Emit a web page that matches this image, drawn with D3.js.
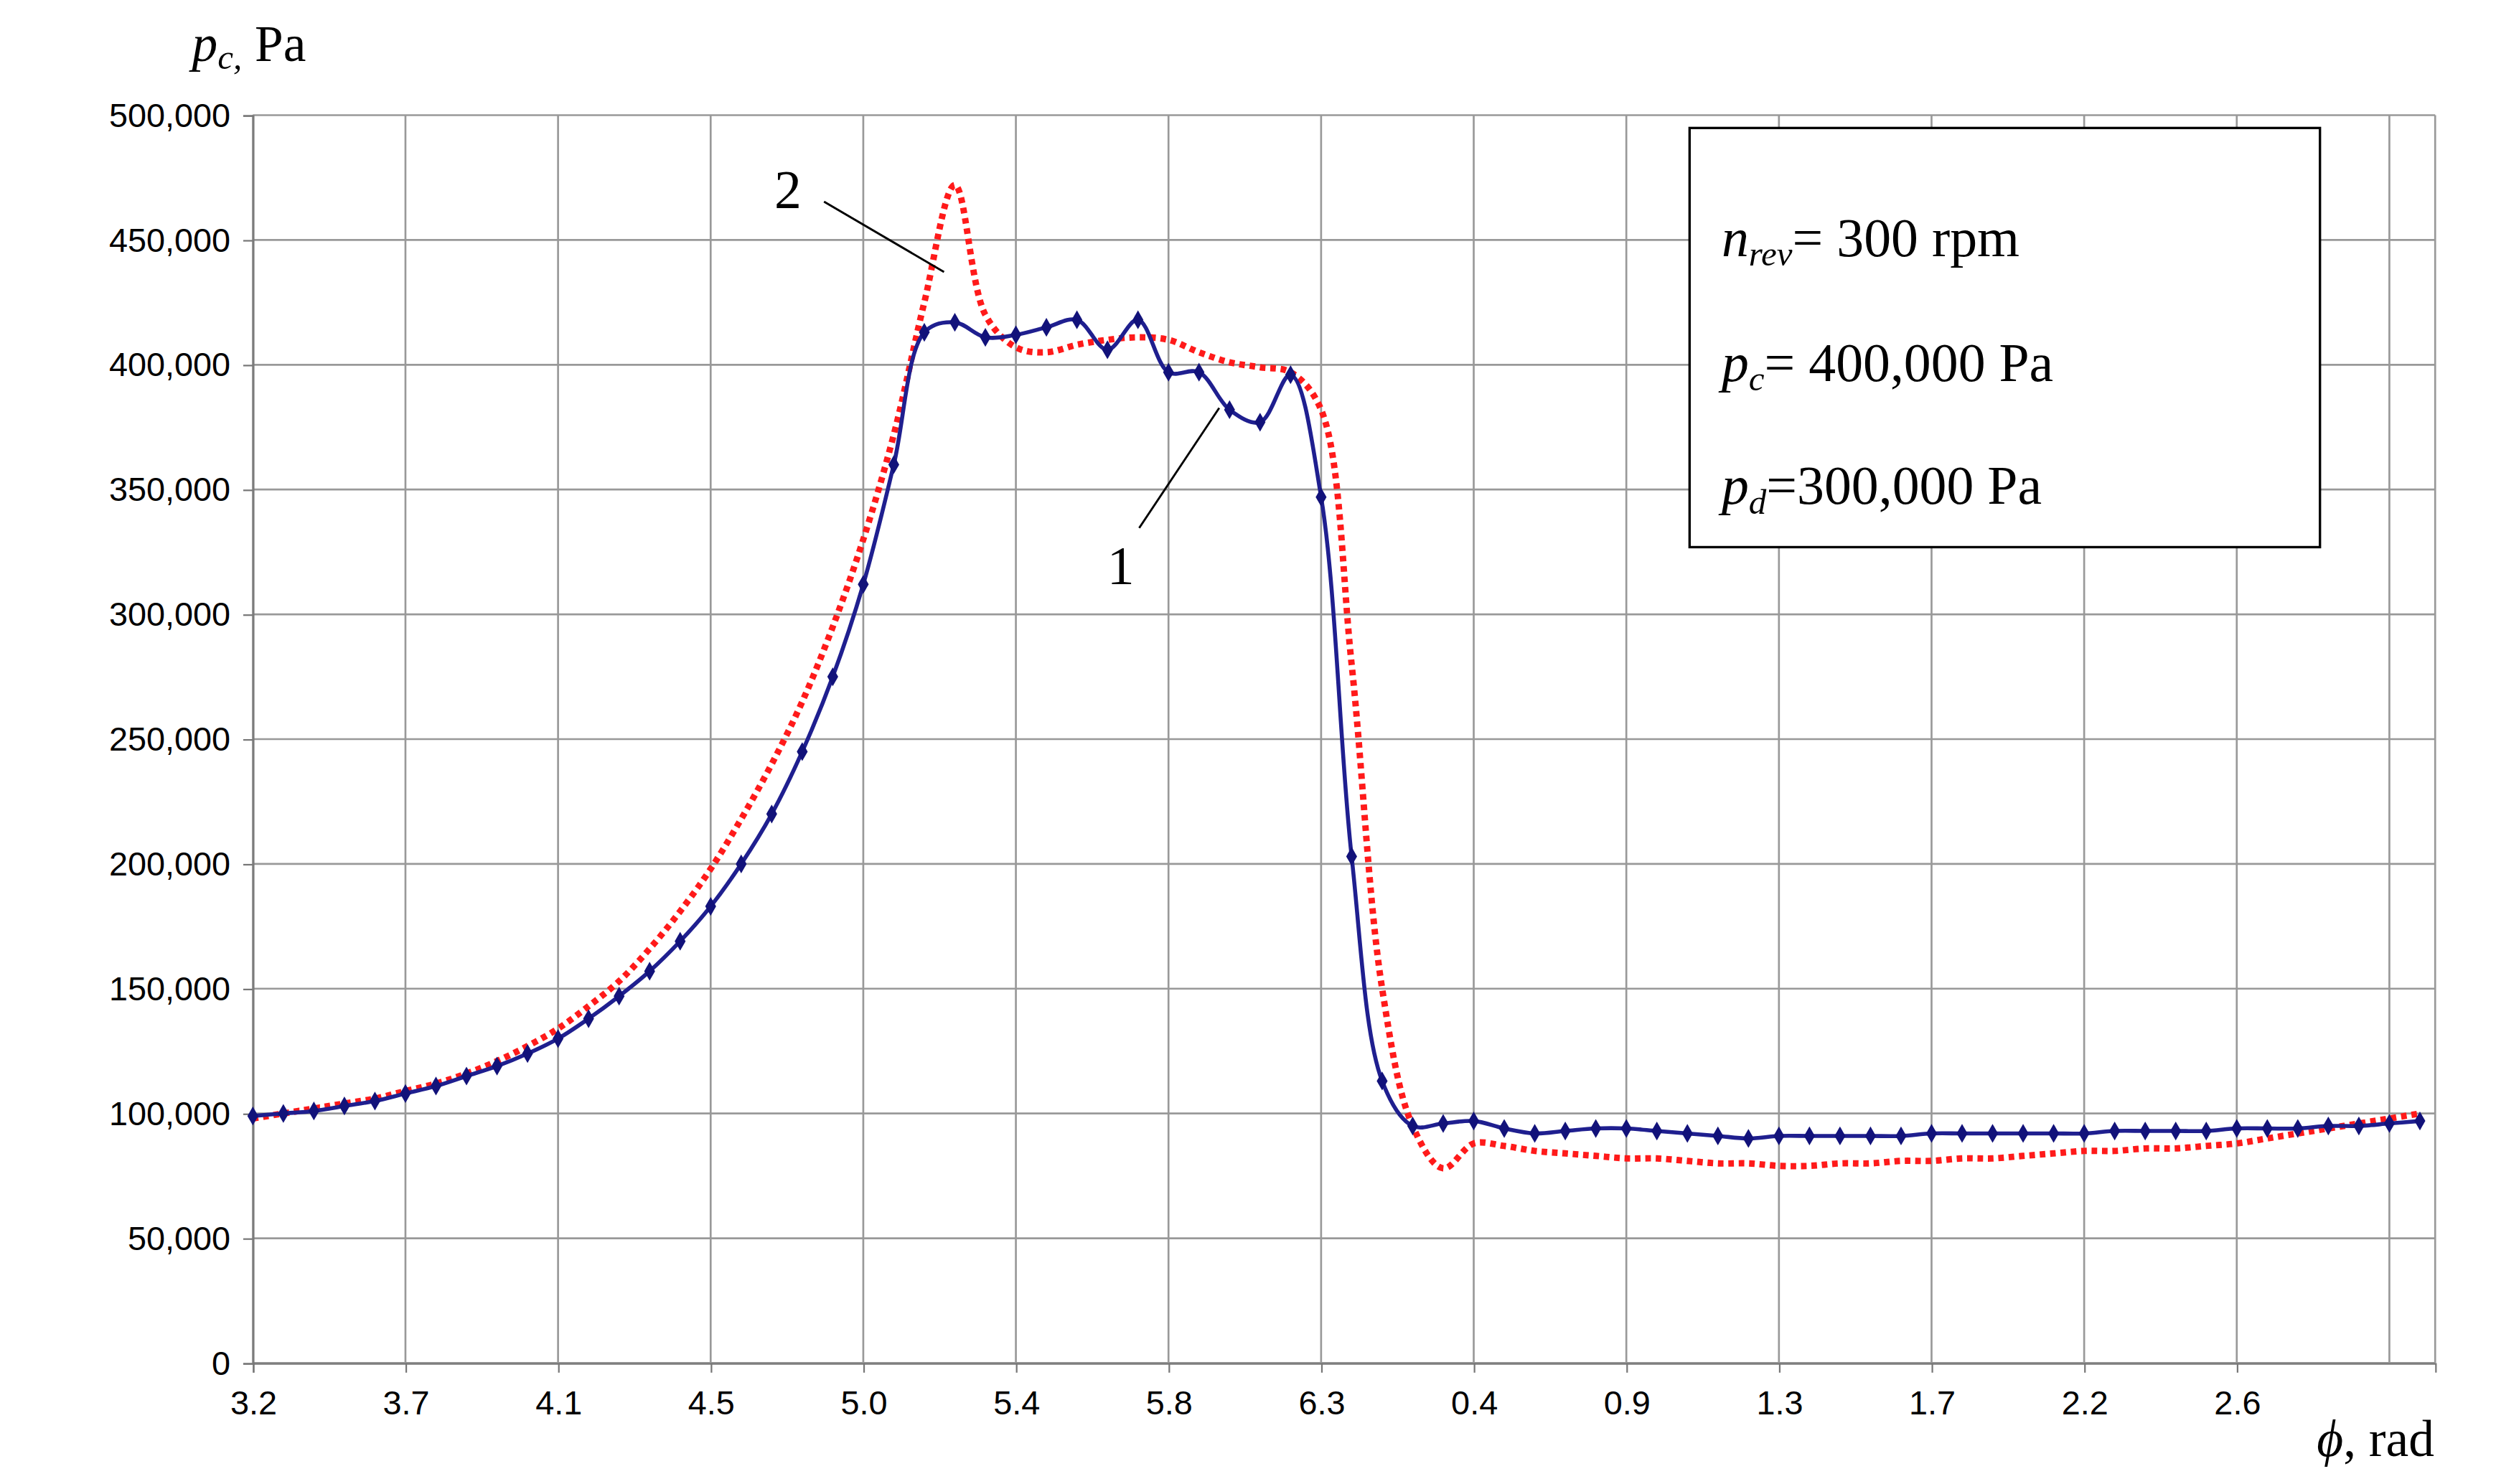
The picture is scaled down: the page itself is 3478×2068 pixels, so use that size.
<!DOCTYPE html>
<html><head><meta charset="utf-8">
<script src="https://cdn.jsdelivr.net/npm/d3@7"></script>
<style>body{margin:0;background:#fff}</style></head>
<body><svg id="c" width="3478" height="2068" viewBox="0 0 1560 927.6"></svg>
<script>
const xTickLabels=["3.2","3.7","4.1","4.5","5.0","5.4","5.8","6.3","0.4","0.9","1.3","1.7","2.2","2.6"];
const yTicks=[0,50000,100000,150000,200000,250000,300000,350000,400000,450000,500000];
const series1=[99,100,101,103,105,108,111,115,119,124,130,138,147,157,169,183,200,220,245,275,312,360,413,417,411,412,415,418,406,418,397,397,382,377,396,347,203,113,95,96,97,94,92,93,94,94,93,92,91,90,91,91,91,91,91,92,92,92,92,92,92,93,93,93,93,94,94,94,95,95,96,97].map(v=>v*1000);
const series2=[98,100,102,104,106,109,112,116,121,127,134,143,153,166,181,198,218,240,265,295,330,372,425,472,420,407,405,408,410,411,410,405,401,399,397,382,280,150,95,78,88,87,85,84,83,82,82,81,80,80,79,79,80,80,81,81,82,82,83,84,85,85,86,86,87,88,90,92,94,96,98,100].map(v=>v*1000);

const svg=d3.select("#c");
const L=158,R=1522,T=72,B=852;
const x=d3.scaleLinear().domain([0,71.5]).range([L,R]);
const y=d3.scaleLinear().domain([0,500000]).range([B,T]);
const g=svg.append("g");
for(let i=0;i<=70;i+=5) g.append("line").attr("x1",x(i)).attr("x2",x(i)).attr("y1",T).attr("y2",B).attr("stroke","#999").attr("stroke-width",1.2);
g.append("line").attr("x1",R).attr("x2",R).attr("y1",T).attr("y2",B).attr("stroke","#999").attr("stroke-width",1.2);
yTicks.forEach(v=>g.append("line").attr("x1",L).attr("x2",R).attr("y1",y(v)).attr("y2",y(v)).attr("stroke","#999").attr("stroke-width",1.2));
const ya=d3.axisLeft(y).tickValues(yTicks).tickFormat(d3.format(",")).tickSize(6);
svg.append("g").attr("transform",`translate(${L},0)`).call(ya).call(a=>{a.select(".domain").attr("stroke","#777");a.selectAll("line").attr("stroke","#777");a.selectAll("text").attr("font-family","Liberation Sans, Arial").attr("font-size",21).attr("fill","#000").attr("x",-14);});
const xa=d3.axisBottom(x).tickValues(d3.range(0,70,5)).tickFormat((d,i)=>xTickLabels[i]).tickSize(6);
svg.append("g").attr("transform",`translate(0,${B})`).call(xa).call(a=>{a.select(".domain").attr("stroke","#777");a.selectAll("line").attr("stroke","#777");a.selectAll("text").attr("font-family","Liberation Sans, Arial").attr("font-size",21).attr("fill","#000").attr("dy","1.1em");});
const line=d3.line().x((d,i)=>x(i)).y(d=>y(d)).curve(d3.curveCatmullRom);
svg.append("path").datum(series2).attr("d",line).attr("fill","none").attr("stroke","#ff1a1a").attr("stroke-width",4).attr("stroke-dasharray","3.5,3");
svg.append("path").datum(series1).attr("d",line).attr("fill","none").attr("stroke","#1f1f8f").attr("stroke-width",2.5);
svg.selectAll(".m").data(series1).enter().append("path").attr("d",d3.symbol(d3.symbolDiamond,40)()).attr("transform",(d,i)=>`translate(${x(i)},${y(d)})`).attr("fill","#12127a");
const serif="Liberation Serif, Times New Roman";
const t1=svg.append("text").attr("x",120).attr("y",38).attr("font-family",serif).attr("font-size",32);
t1.append("tspan").attr("font-style","italic").text("p");
t1.append("tspan").attr("font-style","italic").attr("font-size",22).attr("dy",5).text("c,");
t1.append("tspan").attr("dy",-5).text(" Pa");
const t2=svg.append("text").attr("x",1448).attr("y",910).attr("font-family",serif).attr("font-size",32);
t2.append("tspan").attr("font-style","italic").text("ϕ");
t2.append("tspan").text(", rad");
// callouts
svg.append("text").attr("x",484).attr("y",130).attr("font-family",serif).attr("font-size",34).text("2");
svg.append("line").attr("x1",515).attr("y1",126).attr("x2",590).attr("y2",170).attr("stroke","#000").attr("stroke-width",1.3);
svg.append("text").attr("x",692).attr("y",365).attr("font-family",serif).attr("font-size",34).text("1");
svg.append("line").attr("x1",712).attr("y1",330).attr("x2",762).attr("y2",255).attr("stroke","#000").attr("stroke-width",1.3);
// info box
svg.append("rect").attr("x",1056).attr("y",80).attr("width",394).attr("height",262).attr("fill","#fff").attr("stroke","#000").attr("stroke-width",1.5);
const info=[["n","rev","= 300 rpm",160],["p","c","= 400,000 Pa",238],["p","d","=300,000 Pa",315]];
info.forEach(([a,s,r,yy])=>{
  const t=svg.append("text").attr("x",1076).attr("y",yy).attr("font-family",serif).attr("font-size",34);
  t.append("tspan").attr("font-style","italic").text(a);
  t.append("tspan").attr("font-style","italic").attr("font-size",22).attr("dy",6).text(s);
  t.append("tspan").attr("dy",-6).text(r);
});
</script></body></html>
